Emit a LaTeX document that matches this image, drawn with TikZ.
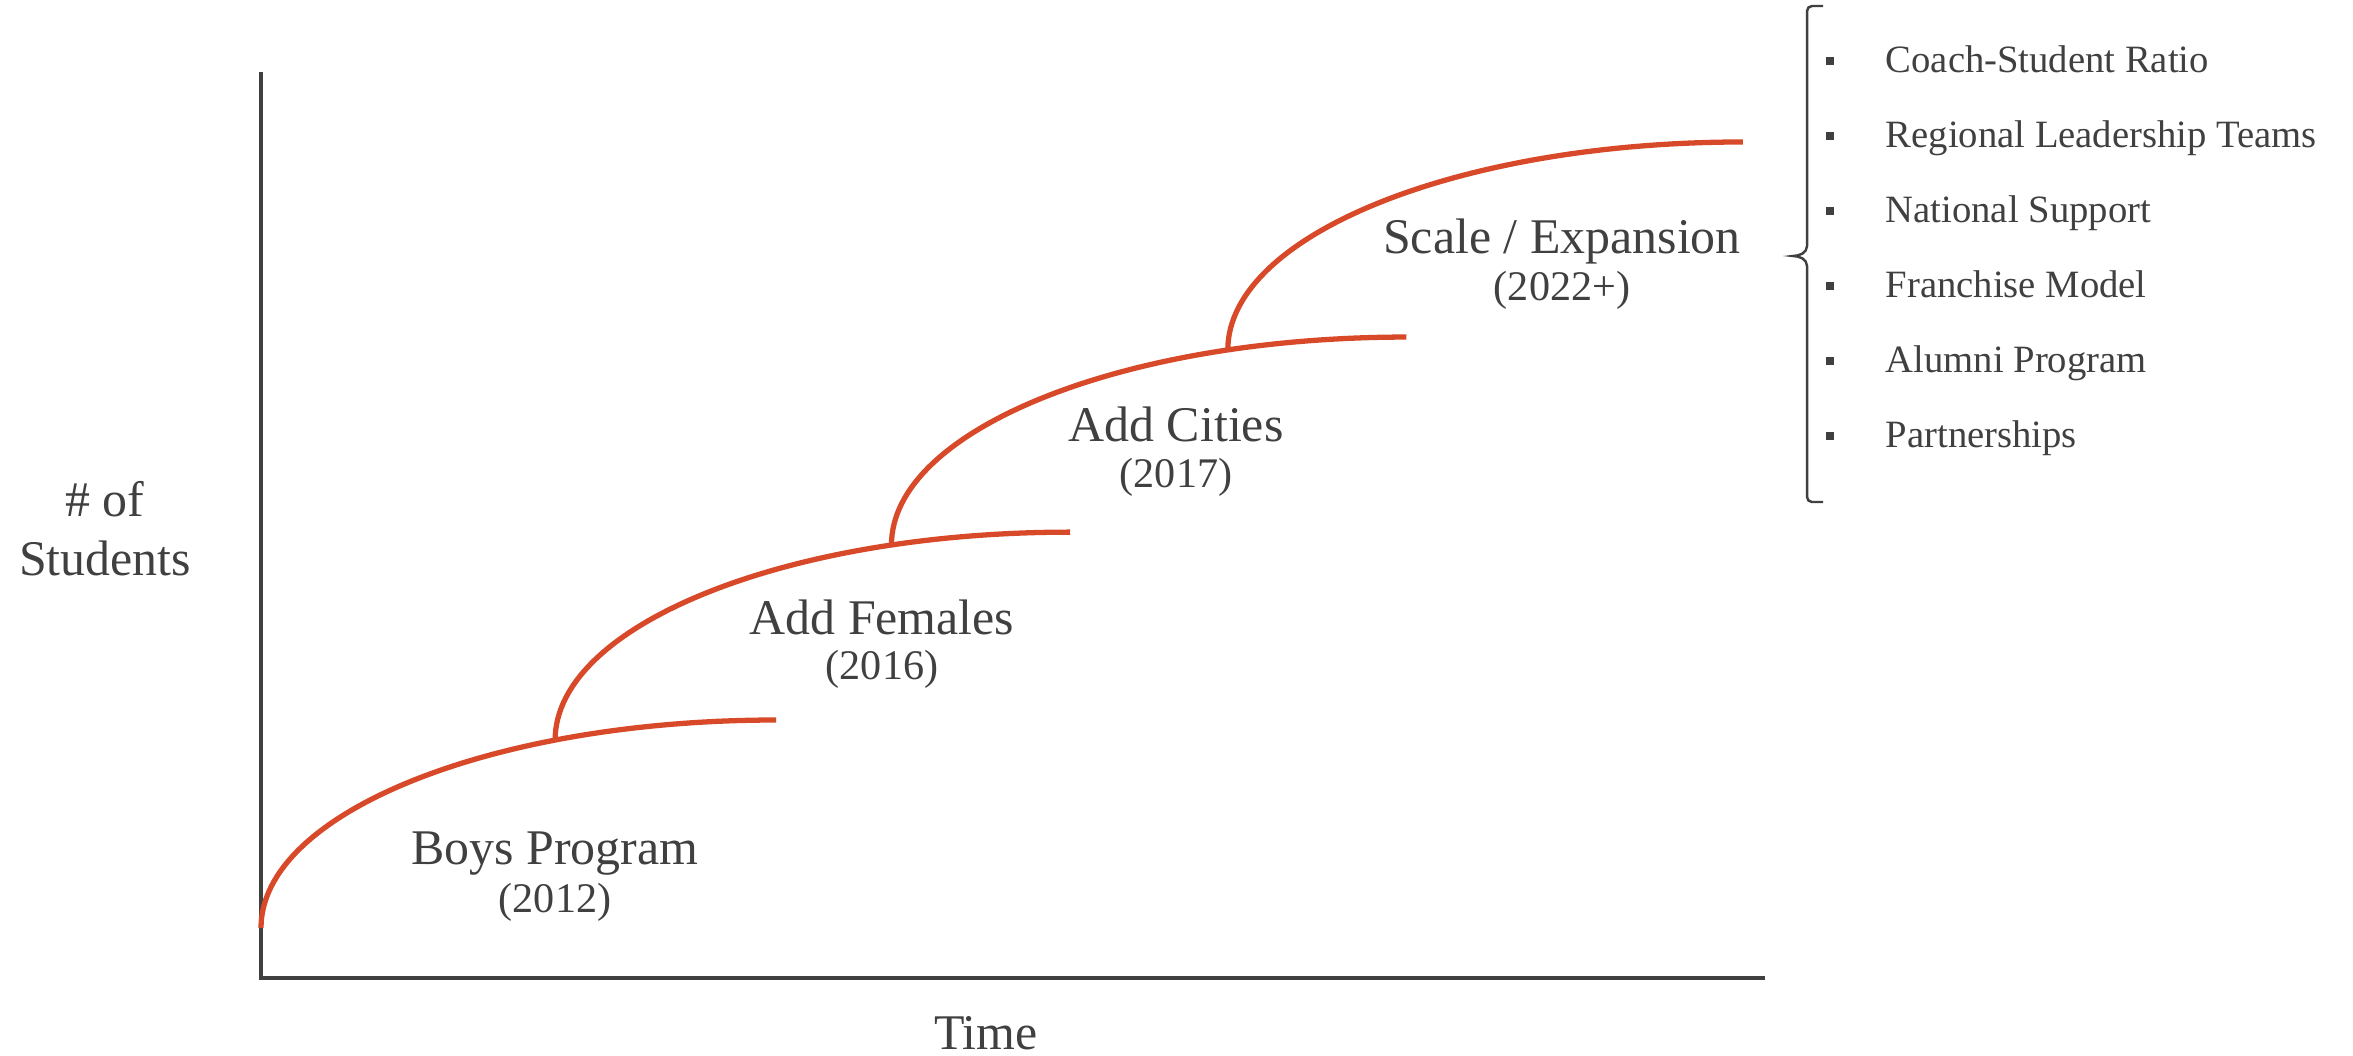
\documentclass[tikz,border=0pt]{standalone}
\usepackage{fontspec}
\setmainfont{Liberation Serif}
\usetikzlibrary{calc}
\definecolor{growthred}{RGB}{215,73,41}
\definecolor{inkgray}{RGB}{64,64,64}
\tikzset{
  growth/.style = {draw = growthred, line width = 1.5pt},
  axisline/.style = {draw = inkgray, line width = 1.4pt},
  bracket/.style = {draw = inkgray, line width = .7pt},
  stagelabel/.style = {text = inkgray, font = \fontsize{14.2}{16.7}\selectfont, inner sep = 0pt, anchor = base},
  yearlabel/.style = {text = inkgray, font = \fontsize{12}{14}\selectfont, inner sep = 0pt, anchor = base},
  itemlabel/.style = {text = inkgray, font = \fontsize{11}{13}\selectfont, inner sep = 0pt, anchor = base west},
  itembullet/.style = {fill = inkgray, minimum size = .08cm, inner sep = 0pt}
}
\begin{document}
\begin{tikzpicture}
  \useasboundingbox (0, 0) rectangle (23.53, 10.55);
  \def\xradius{5.15}
  \def\yradius{2.08}
  \draw[axisline] (2.61, 9.83) coordinate (ytop) -- (2.61, 0.77) coordinate (origin) -- (17.65, 0.77) coordinate (xend);
  \node[stagelabel, align = center] (ylabel) at (1.05, 4.80) {\# of\\Students};
  \node[stagelabel] (xlabel) at (9.86, 0.06) {Time};
  \coordinate (start1) at (2.61, 1.27);
  \foreach \i/\teta in {1/115.4, 2/110.3, 3/110.3}
    {
    \pgfmathtruncatemacro\nexti{\i + 1}
    \coordinate (start\nexti) at ($(start\i) + ({\xradius * (1 + cos(\teta))}, {\yradius * sin(\teta)})$);
    }
  \foreach \i in {1, ..., 4}
    \draw[growth] (start\i) arc[start angle = 180, end angle = 90, x radius = \xradius, y radius = \yradius] coordinate (end\i);
  \node[stagelabel] (boys) at (5.55, 1.91) {Boys Program};
  \node[yearlabel] (boysyear) at (5.55, 1.43) {(2012)};
  \node[stagelabel] (females) at (8.82, 4.21) {Add Females};
  \node[yearlabel] (femalesyear) at (8.82, 3.76) {(2016)};
  \node[stagelabel] (cities) at (11.76, 6.14) {Add Cities};
  \node[yearlabel] (citiesyear) at (11.76, 5.68) {(2017)};
  \node[stagelabel] (scale) at (15.62, 8.02) {Scale / Expansion};
  \node[yearlabel] (scaleyear) at (15.62, 7.55) {(2022+)};
  \draw[bracket] (18.23, 10.49) -- (18.12, 10.49) to[out = 180, in = 90] (18.07, 10.44) -- (18.07, 8.09)
    to[out = -90, in = 0] (17.93, 7.99) coordinate (bracetip) to[out = 0, in = 90] (18.07, 7.89) -- (18.07, 5.58)
    to[out = -90, in = 180] (18.12, 5.53) -- (18.23, 5.53);
  \foreach \entry [count = \k] in {Coach-Student Ratio, Regional Leadership Teams, National Support, Franchise Model, Alumni Program, Partnerships}
    {
    \pgfmathsetmacro\itemy{9.83 - .75 * (\k - 1)}
    \node[itembullet] (bullet\k) at (18.30, \itemy + .11) {};
    \node[itemlabel] (item\k) at (18.85, \itemy) {\entry};
    }
\end{tikzpicture}
\end{document}
